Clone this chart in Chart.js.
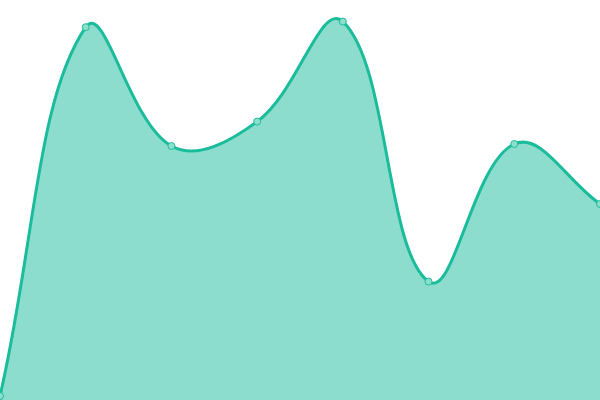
<!DOCTYPE html>
<html>
<head>
<meta charset="utf-8">
<script src="https://cdn.jsdelivr.net/npm/chart.js@4"></script>
<style>
  html, body { margin: 0; padding: 0; background: #fff; }
  .wrap { width: 600px; height: 400px; }
</style>
</head>
<body>
<div class="wrap"><canvas id="areaChart"></canvas></div>
<script>
// ---- Data ----
const labels = ['1', '2', '3', '4', '5', '6', '7', '8'];
const values = [1, 93.2, 63.5, 69.6, 94.6, 29.6, 64, 49];

const lineColor = '#1abc9c';
const fillColor = 'rgba(26, 188, 156, 0.5)';
const pointFill = '#8ddecd';

new Chart(document.getElementById('areaChart'), {
    type: 'line',
    data: {
        labels: labels,
        datasets: [{
            data: values,
            borderColor: lineColor,
            backgroundColor: fillColor,
            borderWidth: 3,
            pointRadius: 3.5,
            pointBorderWidth: 1,
            pointBorderColor: lineColor,
            pointBackgroundColor: pointFill,
            fill: true,
            tension: 0.4
        }]
    },
    options: {
        responsive: true,
        maintainAspectRatio: false,
        animation: false,
        layout: { padding: 0, autoPadding: false },
        scales: {
            x: { display: false },
            y: { display: false, min: 0, max: 100 }
        },
        plugins: {
            legend: { display: false },
            tooltip: { enabled: false }
        }
    }
});
</script>
</body>
</html>
